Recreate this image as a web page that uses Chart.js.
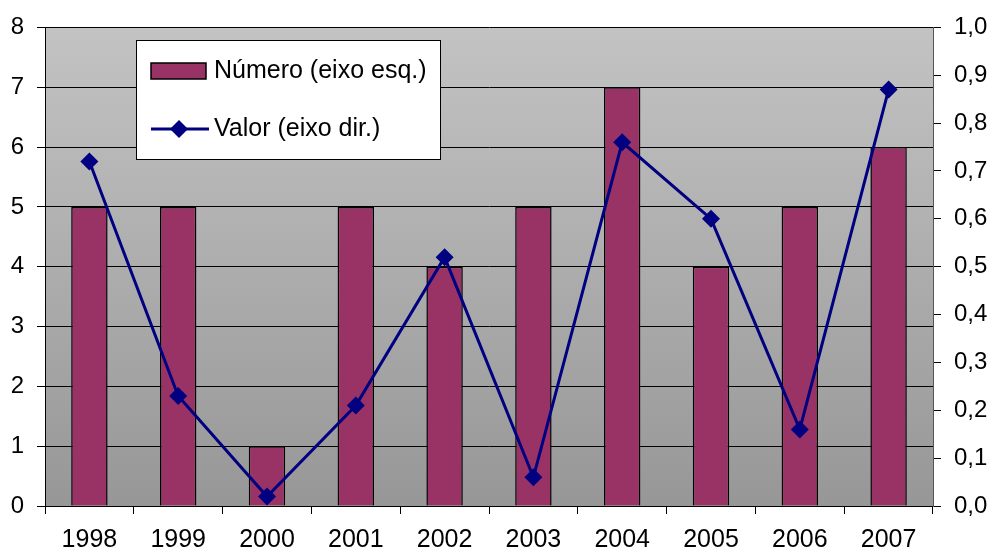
<!DOCTYPE html>
<html>
<head>
<meta charset="utf-8">
<script src="https://cdn.jsdelivr.net/npm/chart.js@4.4.1/dist/chart.umd.min.js"></script>
<style>
html,body{margin:0;padding:0;background:#fff;}
#wrap{width:993px;height:553px;position:relative;}
</style>
</head>
<body>
<div id="wrap"><canvas id="c" width="993" height="553"></canvas></div>
<script>
const categories = ['1998','1999','2000','2001','2002','2003','2004','2005','2006','2007'];
const numeroValues = [5, 5, 1, 5, 4, 5, 7, 4, 5, 6];
const valorValues = [0.72, 0.23, 0.02, 0.21, 0.52, 0.06, 0.76, 0.60, 0.16, 0.87];
const seriesLabels = ['Número (eixo esq.)', 'Valor (eixo dir.)'];

const FONT = '"Liberation Sans", Arial, sans-serif';
const BAR_COLOR = '#993366';
const LINE_COLOR = '#000080';

const bgPlugin = {
  id: 'bg',
  beforeDraw(chart) {
    const {ctx, chartArea: a} = chart;
    const g = ctx.createLinearGradient(0, a.top, 0, a.bottom);
    g.addColorStop(0, '#c3c3c3');
    g.addColorStop(1, '#979797');
    ctx.save();
    ctx.fillStyle = g;
    ctx.fillRect(a.left, a.top, a.right - a.left, a.bottom - a.top);
    ctx.restore();
  }
};

const legendPlugin = {
  id: 'boxLegend',
  afterDraw(chart) {
    const ctx = chart.ctx;
    const ds = chart.data.datasets;
    const barDs = ds.find(d => d.type === 'bar');
    const lineDs = ds.find(d => d.type === 'line');
    ctx.save();
    ctx.fillStyle = '#ffffff';
    ctx.fillRect(136, 40, 304, 120);
    ctx.strokeStyle = '#000000';
    ctx.lineWidth = 1;
    ctx.strokeRect(136.5, 40.5, 304, 119);
    // bar swatch
    ctx.fillStyle = BAR_COLOR;
    ctx.fillRect(151, 63, 55, 16);
    ctx.lineWidth = 1.5;
    ctx.strokeRect(151, 63, 55, 16);
    // line swatch
    ctx.strokeStyle = LINE_COLOR;
    ctx.lineWidth = 3;
    ctx.beginPath();
    ctx.moveTo(151, 129); ctx.lineTo(209, 129);
    ctx.stroke();
    ctx.fillStyle = LINE_COLOR;
    ctx.beginPath();
    ctx.moveTo(179, 120); ctx.lineTo(188, 129); ctx.lineTo(179, 138); ctx.lineTo(170, 129);
    ctx.closePath(); ctx.fill();
    // text
    ctx.fillStyle = '#000';
    ctx.font = '25px ' + FONT;
    ctx.textBaseline = 'middle';
    ctx.textAlign = 'left';
    ctx.fillText(barDs.label, 214, 71);
    ctx.fillText(lineDs.label, 214, 129);
    ctx.restore();
  }
};

new Chart(document.getElementById('c'), {
  data: {
    labels: categories,
    datasets: [
      {
        type: 'line',
        label: seriesLabels[1],
        data: valorValues,
        yAxisID: 'y1',
        borderColor: LINE_COLOR,
        backgroundColor: LINE_COLOR,
        borderWidth: 3,
        pointStyle: 'rectRot',
        pointRadius: 9,
        pointHoverRadius: 9,
        pointBorderWidth: 0,
        tension: 0,
        order: 0
      },
      {
        type: 'bar',
        label: seriesLabels[0],
        data: numeroValues,
        yAxisID: 'y',
        backgroundColor: BAR_COLOR,
        borderColor: '#000000',
        borderWidth: 1.5,
        barPercentage: 0.41,
        categoryPercentage: 1,
        order: 1
      }
    ]
  },
  options: {
    responsive: false,
    animation: false,
    layout: {padding: {top: 26, left: 0, right: 0, bottom: 0}},
    plugins: {legend: {display: false}, tooltip: {enabled: false}},
    scales: {
      x: {
        offset: true,
        grid: {offset: true, drawOnChartArea: false, drawTicks: true, tickLength: 8, color: '#000', lineWidth: 1},
        border: {display: true, color: '#000', width: 1},
        ticks: {font: {family: FONT, size: 25}, color: '#000', padding: 11, maxRotation: 0},
        afterFit(s) { s.height = 47; }
      },
      y: {
        position: 'left',
        min: 0, max: 8,
        ticks: {stepSize: 1, font: {family: FONT, size: 24}, color: '#000', padding: 13},
        grid: {color: '#000', lineWidth: 1, tickLength: 8},
        border: {display: true, color: '#000', width: 1},
        afterFit(s) { s.width = 45; }
      },
      y1: {
        position: 'right',
        min: 0, max: 1,
        ticks: {stepSize: 0.1, font: {family: FONT, size: 24}, color: '#000', padding: 13,
          callback: v => v.toFixed(1).replace('.', ',')},
        grid: {drawOnChartArea: false, color: '#000', tickLength: 8},
        border: {display: true, color: '#555', width: 1},
        afterFit(s) { s.width = 60; }
      }
    }
  },
  plugins: [bgPlugin, legendPlugin]
});
</script>
</body>
</html>
